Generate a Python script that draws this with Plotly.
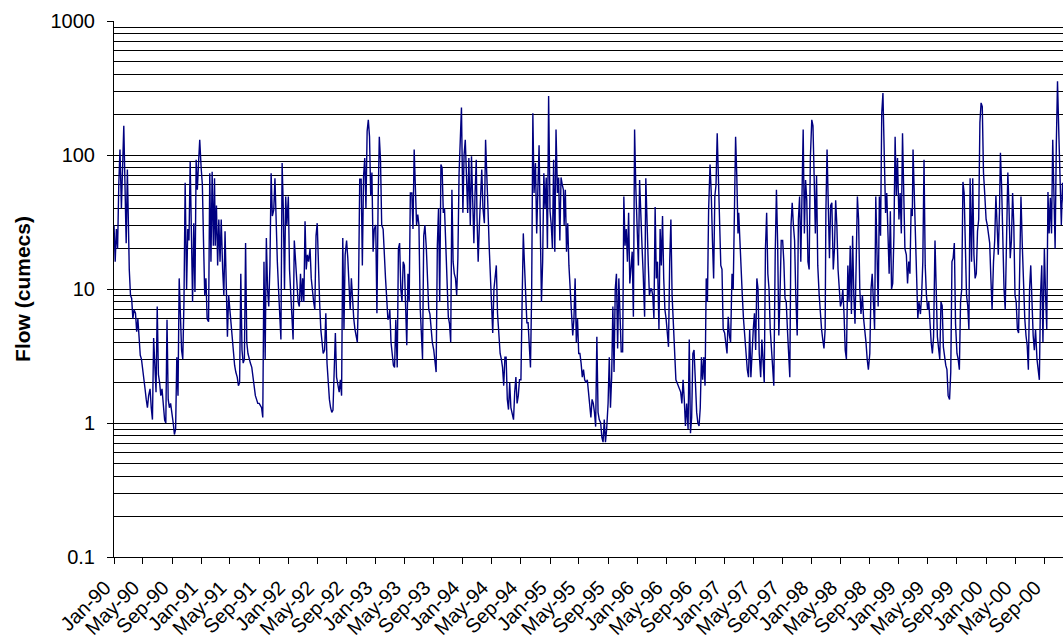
import pandas as pd
import plotly.graph_objects as go

# Flow readings (cumecs), six readings per month (days 1, 6, 11, 16, 21, 26)
flow_1990 = [30, 16, 28, 20, 60, 110, 40, 100, 165, 60, 22, 78, 35, 14, 9, 8.5, 6.0, 7.0,
             6.6, 4.8, 6.0, 4.2, 3.2, 3.0, 2.6, 2.2, 1.8, 1.5, 1.3, 1.6, 1.8, 1.3, 1.06, 4.3, 2.5, 1.7,
             7.4, 2.3, 2.0, 1.6, 1.8, 1.3, 1.05, 1.0, 5.9, 1.5, 1.3, 1.4, 1.2, 1.0, 0.82, 0.9, 3.1, 1.6,
             12, 6, 3.5, 3.0, 8, 62, 10, 28, 23, 89, 30, 8, 31, 9.5, 92, 55, 87, 130]
flow_1991 = [80, 60, 22, 9, 12, 6, 5.7, 73, 16, 75, 21, 67, 21, 42, 15, 33, 16, 33,
             14, 9, 27, 10, 4.4, 9, 7, 5, 4, 3.2, 2.7, 2.4, 2.2, 1.9, 2.0, 13, 3.5, 2.8,
             3.0, 22, 4, 3.3, 3.0, 2.8, 2.6, 2.2, 1.9, 1.6, 1.5, 1.4, 1.4, 1.35, 1.3, 1.1, 16, 3,
             24, 10, 7.4, 15, 73, 35, 39, 67, 28, 16, 10, 6, 4.2, 87, 40, 10, 49, 30]
flow_1992 = [49, 14, 9, 5, 4.2, 23, 15, 10, 8, 7.4, 13, 8, 12, 8, 32, 14, 18, 16,
             20, 12, 9, 8, 7, 25, 31, 12, 8, 5, 3.8, 3.3, 3.5, 6.6, 2.8, 2.0, 1.5, 1.3,
             1.2, 1.25, 3.0, 4.7, 2.2, 1.9, 1.7, 2.1, 1.6, 24, 5, 18, 23, 17, 9.3, 7, 12, 8,
             6, 5, 4.5, 4, 10, 66, 66, 15, 69, 95, 40, 150, 183, 137, 50, 74, 19, 28]
flow_1993 = [30, 6.6, 45, 137, 92, 30, 28, 16, 12, 8.5, 5.9, 6.2, 7, 4, 3.3, 2.7, 2.6, 5.9,
             2.6, 20, 22, 10, 8, 16, 15, 6.5, 3.8, 13, 8, 52, 52, 28, 110, 58, 30, 36,
             30, 7.4, 4, 3, 25, 30, 20, 12, 7, 6.5, 5, 4, 3.5, 3.0, 2.4, 21, 40, 8,
             85, 80, 37, 40, 22, 14, 6.2, 5.5, 4, 55, 16, 13, 12, 9, 17, 73, 123, 226]
flow_1994 = [37, 100, 130, 66, 37, 95, 30, 98, 55, 22, 52, 92, 35, 16, 30, 50, 78, 40,
             31, 130, 60, 40, 21, 12, 6.6, 4.7, 10, 13, 15, 6.6, 4.0, 3.3, 3.0, 2.6, 1.9, 3.1,
             3.1, 1.5, 1.26, 2.0, 1.3, 1.2, 1.06, 1.7, 2.2, 1.4, 1.6, 2.1, 2.1, 8, 26, 15, 7.4, 5.6,
             5.6, 4, 2.6, 9.5, 205, 52, 87, 26, 55, 118, 30, 8, 16, 73, 40, 68, 20, 275]
flow_1995 = [38, 30, 20, 92, 19, 155, 52, 68, 23, 68, 60, 55, 30, 55, 19, 31, 15, 10,
             7, 4.5, 6, 12, 4, 6, 3.3, 3.3, 2.8, 2.2, 2.5, 2.1, 2.0, 2.1, 1.7, 1.26, 1.1, 1.5,
             1.4, 1.2, 0.94, 4.4, 1.2, 1.06, 1.0, 0.78, 0.72, 1.06, 0.72, 0.9, 1.4, 3.1, 1.3, 2.2, 7.4, 2.4,
             10, 13, 3.6, 12, 5.2, 3.4, 3.4, 49, 21, 28, 16, 37, 11, 15, 19, 6.2, 155, 58]
flow_1996 = [23, 15, 65, 30, 21, 13, 6.2, 67, 28, 16, 9, 10, 10, 9, 6, 41, 12, 16,
             5, 28, 15, 35, 12, 7, 6, 4.7, 3.7, 16, 33, 9, 5, 3, 2.1, 2.0, 1.9, 1.8,
             1.7, 1.4, 2.1, 1.5, 0.95, 1.4, 0.9, 4.2, 0.84, 1.1, 3.3, 3.5, 1.9, 1.2, 1.0, 0.95, 1.3, 3.1,
             2.1, 3.1, 1.9, 12, 8, 39, 85, 52, 23, 12, 49, 60, 145, 68, 31, 15, 14, 5]
flow_1997 = [4.7, 4, 3.3, 6.2, 4.5, 4, 13, 10, 62, 137, 70, 26, 37, 21, 13, 9, 6, 4.5,
             3.0, 2.5, 2.2, 5, 2.2, 3.5, 5, 6.6, 3.5, 12, 10, 3.3, 2.2, 4.2, 2.8, 2.0, 20, 37,
             13, 10, 5, 3.5, 2.3, 1.9, 19, 55, 22, 4.5, 9, 23, 23, 16, 8.5, 8, 5, 3.3,
             2.2, 30, 44, 30, 23, 9, 4.5, 33, 49, 16, 68, 155, 26, 65, 46, 16, 14, 95]
flow_1998 = [183, 165, 68, 26, 70, 15, 9, 6, 5, 4.2, 3.6, 5, 37, 110, 46, 17, 42, 44,
             14, 20, 46, 30, 14, 10, 7.4, 8, 10, 6.5, 3.5, 3.0, 15, 8, 21, 6.5, 25, 9,
             5.5, 16, 49, 33, 10, 6.5, 9, 6, 5, 4, 3, 2.5, 3.3, 10, 13, 9, 5, 49,
             16, 7.4, 49, 25, 205, 290, 92, 37, 52, 20, 13, 38, 10, 11, 25, 137, 50, 95]
flow_1999 = [33, 52, 26, 145, 39, 20, 18, 11, 16, 13, 40, 35, 110, 52, 20, 9, 6, 8,
             6.5, 9, 16, 92, 15, 9, 7, 8, 5, 4, 3.3, 4.4, 23, 8.5, 4.4, 3.6, 3, 8,
             7.5, 3.7, 3, 2.7, 2.5, 1.6, 1.5, 2.4, 16, 17, 22, 5.5, 3.3, 3, 2.5, 8, 10, 63,
             52, 20, 9, 7.5, 5, 67, 16, 67, 18, 12, 13, 27, 33, 175, 245, 230, 74, 52]
flow_2000 = [33, 30, 25, 22, 12, 7, 16, 23, 50, 33, 18, 38, 104, 58, 20, 10, 7, 25,
             74, 40, 17, 23, 52, 30, 9, 8, 5, 4.7, 20, 49, 20, 9, 6, 4.5, 3.8, 2.5,
             10, 15, 7, 4.5, 3.5, 5, 3, 2.4, 2.1, 9, 15, 4, 20, 9, 5, 53, 26, 48,
             26, 130, 58, 20, 120, 355, 135, 62, 30, 62, 40, 30]

yearly = [(1990, flow_1990), (1991, flow_1991), (1992, flow_1992), (1993, flow_1993),
          (1994, flow_1994), (1995, flow_1995), (1996, flow_1996), (1997, flow_1997),
          (1998, flow_1998), (1999, flow_1999), (2000, flow_2000)]
day_offsets = [0, 5, 10, 15, 20, 25]

dates, flows = [], []
for year, vals in yearly:
    for i, v in enumerate(vals):
        month = i // 6 + 1
        d = pd.Timestamp(year=year, month=month, day=1) + pd.Timedelta(days=day_offsets[i % 6])
        dates.append(d)
        flows.append(v)

y_major = [0.1, 1, 10, 100, 1000]
y_major_text = ["0.1", "1", "10", "100", "1000"]
y_minor = [k * 10.0 ** e for e in (-1, 0, 1, 2) for k in range(2, 10)]

font_family = "Arial, 'Liberation Sans', sans-serif"

fig = go.Figure()
fig.add_trace(go.Scatter(x=dates, y=flows, mode="lines",
                         line=dict(color="#000080", width=1.4), showlegend=False))

fig.update_layout(
    width=1063, height=639,
    margin=dict(l=114, r=0, t=21, b=82, autoexpand=False),
    paper_bgcolor="white", plot_bgcolor="white",
    font=dict(family=font_family, size=20, color="black"),
    xaxis=dict(
        type="date",
        range=["1990-01-01", "2000-11-18"],
        tick0="1990-01-01", dtick="M4", tickformat="%b-%y",
        tickangle=-45,
        ticks="outside", ticklen=6, tickcolor="black", tickwidth=1,
        showline=True, linecolor="black", linewidth=1,
        showgrid=False, zeroline=False, automargin=False,
        tickfont=dict(size=20),
        ticklabelstandoff=4, ticklabelshift=-9,
    ),
    yaxis=dict(
        type="log",
        range=[-1, 3],
        tickmode="array", tickvals=y_major, ticktext=y_major_text,
        ticks="outside", ticklen=6, tickcolor="black", tickwidth=1,
        showline=True, linecolor="black", linewidth=1,
        showgrid=True, gridcolor="black", gridwidth=1,
        minor=dict(tickmode="array", tickvals=y_minor, showgrid=True,
                   gridcolor="black", gridwidth=1, ticks=""),
        zeroline=False, automargin=False,
        tickfont=dict(size=20),
        ticklabelstandoff=8,
        title=dict(text="<b>Flow (cumecs)</b>", font=dict(size=21), standoff=14),
    ),
)

fig.write_html("out.html",
               config={"displayModeBar": False},
               post_script="document.body.style.margin='0px';document.body.style.padding='0px';")
